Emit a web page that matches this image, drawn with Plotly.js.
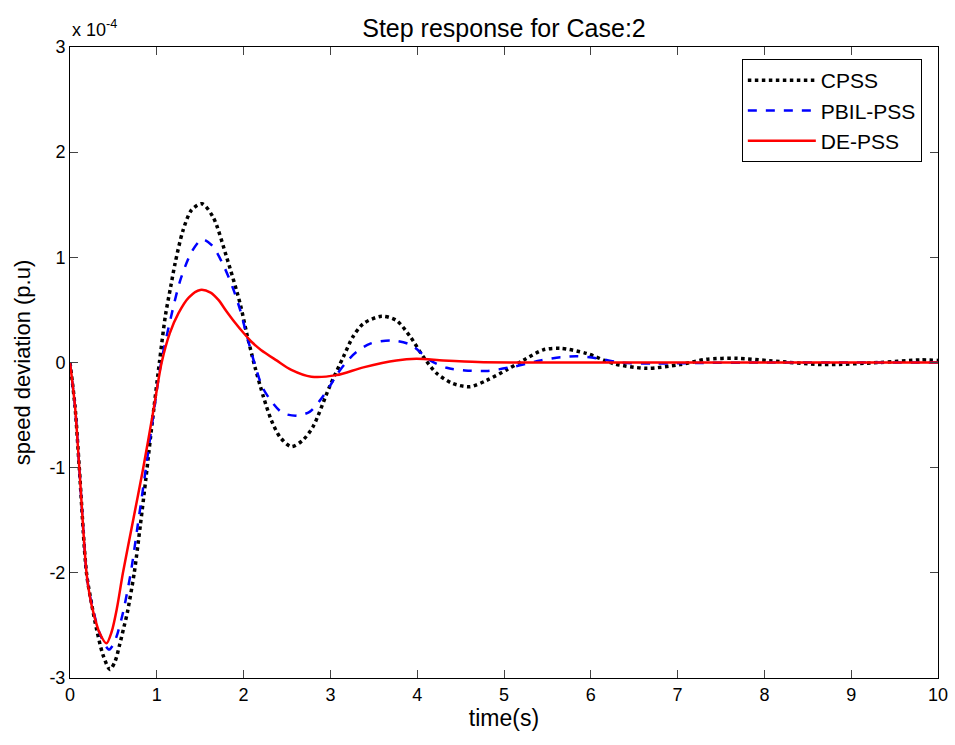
<!DOCTYPE html>
<html>
<head>
<meta charset="utf-8">
<script src="https://cdn.plot.ly/plotly-3.0.1.min.js"></script>
<style>html,body{margin:0;padding:0;background:#fff;}#chart{width:955px;height:745px;}</style>
</head>
<body>
<div id="chart"></div>
<script>
// Values in units of 1e-4 p.u.
const seriesNames = ["CPSS", "PBIL-PSS", "DE-PSS"];

const tCPSS = [0, 0.058, 0.107, 0.19, 0.25, 0.31, 0.38, 0.46, 0.52, 0.57, 0.62, 0.66, 0.74, 0.81, 0.876, 0.95, 1.03, 1.10, 1.16, 1.21, 1.30, 1.40, 1.52, 1.65, 1.805, 1.96, 2.035, 2.13, 2.23, 2.32, 2.42, 2.55, 2.68, 2.80, 2.99, 3.15, 3.26, 3.38, 3.59, 3.76, 3.92, 4.07, 4.22, 4.41, 4.61, 4.80, 5.03, 5.22, 5.45, 5.65, 5.95, 6.26, 6.64, 7.03, 7.33, 7.68, 8.06, 8.68, 9.33, 9.79, 10];
const vCPSS = [0, -0.42, -1.0, -2.0, -2.30, -2.55, -2.78, -2.92, -2.84, -2.69, -2.52, -2.38, -2.0, -1.55, -1.09, -0.55, 0, 0.45, 0.72, 0.94, 1.25, 1.45, 1.51, 1.38, 1.0, 0.56, 0.28, -0.04, -0.33, -0.55, -0.71, -0.80, -0.74, -0.61, -0.23, 0.055, 0.245, 0.37, 0.44, 0.40, 0.245, 0.055, -0.10, -0.20, -0.23, -0.17, -0.07, 0.02, 0.12, 0.135, 0.087, -0.01, -0.055, -0.02, 0.03, 0.04, 0.017, -0.02, 0, 0.025, 0.02];

const tPBIL = [0, 0.058, 0.107, 0.19, 0.23, 0.28, 0.34, 0.40, 0.45, 0.50, 0.55, 0.61, 0.70, 0.78, 0.86, 0.96, 1.05, 1.16, 1.27, 1.40, 1.52, 1.64, 1.77, 1.88, 1.96, 2.02, 2.13, 2.22, 2.34, 2.45, 2.61, 2.76, 2.88, 2.99, 3.07, 3.18, 3.30, 3.46, 3.69, 3.92, 4.15, 4.34, 4.55, 4.80, 5.11, 5.42, 5.65, 5.84, 6.07, 6.34, 6.72, 7.2, 8, 9, 10];
const vPBIL = [0, -0.42, -1.0, -2.0, -2.22, -2.40, -2.57, -2.68, -2.73, -2.68, -2.57, -2.38, -2.0, -1.55, -1.09, -0.50, 0, 0.42, 0.78, 1.05, 1.17, 1.11, 0.92, 0.70, 0.50, 0.31, -0.02, -0.24, -0.39, -0.48, -0.505, -0.47, -0.36, -0.23, -0.12, 0.0, 0.10, 0.18, 0.21, 0.17, 0.02, -0.05, -0.075, -0.08, -0.04, 0.02, 0.05, 0.06, 0.04, 0.0, -0.01, -0.005, 0, 0, 0];

const tDE = [0, 0.058, 0.107, 0.19, 0.23, 0.27, 0.34, 0.42, 0.48, 0.54, 0.61, 0.72, 0.84, 0.96, 1.056, 1.15, 1.25, 1.37, 1.50, 1.62, 1.71, 1.80, 1.90, 2.0, 2.1, 2.2, 2.38, 2.55, 2.78, 3.07, 3.38, 3.76, 3.99, 4.3, 4.7, 5.2, 6, 7, 8, 9, 10];
const vDE = [0, -0.42, -1.0, -2.0, -2.23, -2.38, -2.57, -2.67, -2.56, -2.34, -2.0, -1.53, -1.02, -0.46, 0, 0.28, 0.47, 0.62, 0.69, 0.665, 0.595, 0.49, 0.38, 0.28, 0.19, 0.12, 0.02, -0.07, -0.135, -0.12, -0.046, 0.02, 0.035, 0.02, 0.005, 0, 0, 0, 0, 0, 0];

const xTicks = [0,1,2,3,4,5,6,7,8,9,10];
const yTicks = [-3,-2,-1,0,1,2,3];

const font = "Liberation Sans, Arial, Helvetica, sans-serif";

const traces = [
  {x: tCPSS, y: vCPSS, name: seriesNames[0], mode: "lines",
   line: {color: "#000000", width: 3.5, dash: "dot", shape: "spline", smoothing: 0.8}},
  {x: tPBIL, y: vPBIL, name: seriesNames[1], mode: "lines",
   line: {color: "#0000ff", width: 2.5, dash: "dash", shape: "spline", smoothing: 0.8}},
  {x: tDE, y: vDE, name: seriesNames[2], mode: "lines",
   line: {color: "#ff0000", width: 2.5, shape: "spline", smoothing: 0.8}}
];

const axisCommon = {
  showgrid: false, zeroline: false, showline: true, linecolor: "#000", linewidth: 1,
  mirror: "ticks", ticks: "inside", ticklen: 8, tickcolor: "#444", tickwidth: 1,
  tickfont: {family: font, size: 18, color: "#000"}
};

const layout = {
  width: 955, height: 745,
  margin: {l: 70, r: 17, t: 47, b: 67},
  paper_bgcolor: "#fff", plot_bgcolor: "#fff",
  showlegend: true,
  title: {text: "Step response for Case:2", font: {family: font, size: 25, color: "#000"},
          x: 0.5, xref: "paper", y: 1 - 28/745, yref: "container", yanchor: "middle"},
  xaxis: Object.assign({}, axisCommon, {
    range: [0, 10], tickvals: xTicks, ticktext: xTicks.map(String),
    title: {text: "time(s)", font: {family: font, size: 23, color: "#000"}, standoff: 6}
  }),
  yaxis: Object.assign({}, axisCommon, {
    range: [-3, 3], tickvals: yTicks, ticktext: yTicks.map(String),
    title: {text: "speed deviation (p.u)", font: {family: font, size: 22, color: "#000"}, standoff: 12}
  }),
  legend: {x: 0.774, y: 0.981, xanchor: "left", yanchor: "top",
           bgcolor: "#fff", bordercolor: "#000", borderwidth: 1,
           font: {family: font, size: 21, color: "#000"}, itemwidth: 68,
           tracegroupgap: 0},
  annotations: [{
    text: "x 10<sup>-4</sup>", xref: "paper", yref: "paper", x: 0, y: 1,
    xanchor: "left", yanchor: "bottom", yshift: 5, showarrow: false,
    font: {family: font, size: 18, color: "#000"}
  }]
};

Plotly.newPlot("chart", traces, layout, {displayModeBar: false, staticPlot: true});
</script>
</body>
</html>
